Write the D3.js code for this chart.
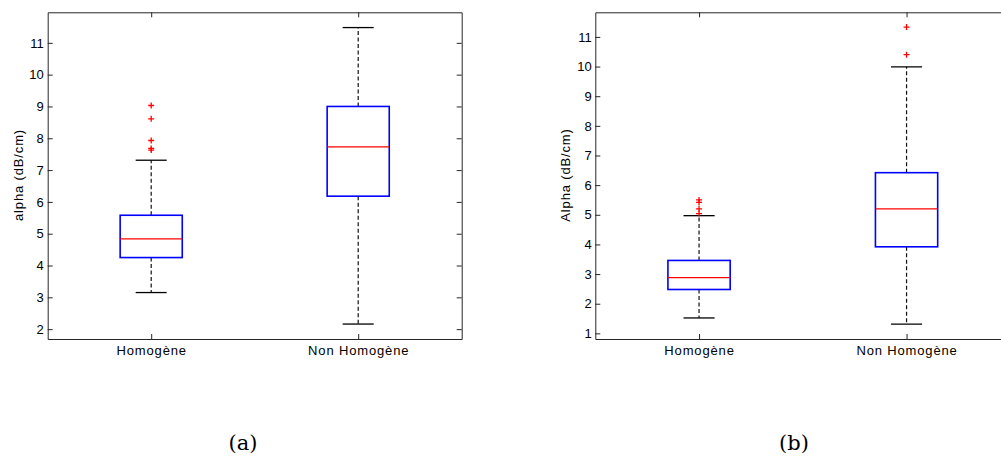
<!DOCTYPE html>
<html>
<head>
<meta charset="utf-8">
<script src="https://cdn.jsdelivr.net/npm/d3@7"></script>
<style>
  body { margin: 0; background: #fff; }
  svg { display: block; }
  .tick text { font-family: "Liberation Sans", Arial, sans-serif; font-size: 13px; fill: #000; }
  .xaxis .tick text, .ylabel { font-family: "Liberation Sans", Arial, sans-serif; font-size: 13px; letter-spacing: 0.85px; fill: #000; }
  .caption { font-family: "DejaVu Serif", serif; font-size: 21px; fill: #000; }
</style>
</head>
<body>
<svg id="chart" width="1001" height="459"></svg>
<script>
// categories and tick labels
const categories = ["Homogène", "Non Homogène"];
const yTicksA = [2, 3, 4, 5, 6, 7, 8, 9, 10, 11];
const yTicksB = [1, 2, 3, 4, 5, 6, 7, 8, 9, 10, 11];

// panel (a) box statistics, one value per category
const q1A = [4.25, 6.18];
const medianA = [4.84, 7.73];
const q3A = [5.58, 9.0];
const lowA = [3.15, 2.16];
const highA = [7.31, 11.48];
const outliersA = [[9.03, 8.61, 7.93, 7.68, 7.63], []];

// panel (b) box statistics
const q1B = [2.48, 3.92];
const medianB = [2.88, 5.2];
const q3B = [3.46, 6.42];
const lowB = [1.52, 1.31];
const highB = [4.97, 9.99];
const outliersB = [[5.5, 5.42, 5.2, 5.04], [11.33, 10.4]];

const svg = d3.select("#chart");

function drawPanel(opts) {
  const g = svg.append("g")
    .attr("transform", `translate(${opts.left},${opts.top})`);

  const width = opts.width;
  const height = opts.height;

  const x = d3.scaleLinear().domain([0.5, 2.5]).range([0, width]);
  const y = d3.scaleLinear().domain(opts.yDomain).range([height, 0]);

  const boxW = 0.15; // half width in x units
  const capW = 0.075;

  // y axis left, ticks pointing inward
  g.append("g")
    .call(d3.axisLeft(y).tickValues(opts.yTicks).tickSizeInner(-5).tickSizeOuter(0).tickPadding(opts.pad))
    .call((a) => a.select(".domain").attr("stroke", "#262626"))
    .call((a) => a.selectAll(".tick line").attr("stroke", "#262626"));

  // right side ticks
  g.append("g")
    .attr("transform", `translate(${width},0)`)
    .call(d3.axisRight(y).tickValues(opts.yTicks).tickSizeInner(-5).tickSizeOuter(0).tickFormat(""))
    .call((a) => a.select(".domain").attr("stroke", "#262626"))
    .call((a) => a.selectAll(".tick line").attr("stroke", "#262626"));

  // bottom axis with categories
  g.append("g")
    .attr("class", "xaxis")
    .attr("transform", `translate(0,${height})`)
    .call(d3.axisBottom(x).tickValues([1, 2]).tickFormat((d) => categories[d - 1])
      .tickSizeInner(-5).tickSizeOuter(0).tickPadding(7))
    .call((a) => a.select(".domain").attr("stroke", "#262626"))
    .call((a) => a.selectAll(".tick line").attr("stroke", "#262626"));

  // top axis
  g.append("g")
    .call(d3.axisTop(x).tickValues([1, 2]).tickSizeInner(-5).tickSizeOuter(0).tickFormat(""))
    .call((a) => a.select(".domain").attr("stroke", "#262626"))
    .call((a) => a.selectAll(".tick line").attr("stroke", "#262626"));

  g.selectAll(".tick text").attr("font-family", null).attr("font-size", null);

  // y label
  svg.append("text")
    .attr("class", "ylabel")
    .attr("text-anchor", "middle")
    .attr("transform", `translate(${opts.labelX},${opts.labelY}) rotate(-90)`)
    .attr("dy", "0.35em")
    .text(opts.yLabel);

  const idx = [0, 1];

  // whiskers (dashed)
  g.selectAll(".whisker-up")
    .data(idx)
    .enter()
    .append("line")
    .attr("x1", (i) => x(i + 1))
    .attr("x2", (i) => x(i + 1))
    .attr("y1", (i) => y(opts.q3[i]))
    .attr("y2", (i) => y(opts.high[i]))
    .attr("stroke", "#111")
    .attr("stroke-width", 1.2)
    .attr("stroke-dasharray", "4,2.5");

  g.selectAll(".whisker-down")
    .data(idx)
    .enter()
    .append("line")
    .attr("x1", (i) => x(i + 1))
    .attr("x2", (i) => x(i + 1))
    .attr("y1", (i) => y(opts.q1[i]))
    .attr("y2", (i) => y(opts.low[i]))
    .attr("stroke", "#111")
    .attr("stroke-width", 1.2)
    .attr("stroke-dasharray", "4,2.5");

  // caps
  [opts.high, opts.low].forEach((vals) => {
    g.selectAll(null)
      .data(idx)
      .enter()
      .append("line")
      .attr("x1", (i) => x(i + 1 - capW))
      .attr("x2", (i) => x(i + 1 + capW))
      .attr("y1", (i) => y(vals[i]))
      .attr("y2", (i) => y(vals[i]))
      .attr("stroke", "#000")
      .attr("stroke-width", 1.3);
  });

  // boxes
  g.selectAll(".box")
    .data(idx)
    .enter()
    .append("rect")
    .attr("x", (i) => x(i + 1 - boxW))
    .attr("width", (i) => x(i + 1 + boxW) - x(i + 1 - boxW))
    .attr("y", (i) => y(opts.q3[i]))
    .attr("height", (i) => y(opts.q1[i]) - y(opts.q3[i]))
    .attr("fill", "none")
    .attr("stroke", "#0000ff")
    .attr("stroke-width", 1.6);

  // medians
  g.selectAll(".median")
    .data(idx)
    .enter()
    .append("line")
    .attr("x1", (i) => x(i + 1 - boxW))
    .attr("x2", (i) => x(i + 1 + boxW))
    .attr("y1", (i) => y(opts.median[i]))
    .attr("y2", (i) => y(opts.median[i]))
    .attr("stroke", "#ff0000")
    .attr("stroke-width", 1.3);

  // outliers as '+'
  const pts = [];
  opts.outliers.forEach((arr, i) => arr.forEach((v) => pts.push({ i: i, v: v })));
  g.selectAll(".outlier")
    .data(pts)
    .enter()
    .append("path")
    .attr("d", (d) => {
      const cx = x(d.i + 1), cy = y(d.v), r = 3;
      return `M${cx - r},${cy}H${cx + r}M${cx},${cy - r}V${cy + r}`;
    })
    .attr("stroke", "#ff0000")
    .attr("stroke-width", 1.3)
    .attr("fill", "none");

  // caption
  svg.append("text")
    .attr("class", "caption")
    .attr("text-anchor", "middle")
    .attr("x", opts.captionX)
    .attr("y", 450)
    .text(opts.caption);
}

drawPanel({
  left: 47.7, top: 12.3, width: 414, height: 326.7,
  yDomain: [1.69, 11.96], yTicks: yTicksA, pad: 4,
  q1: q1A, median: medianA, q3: q3A, low: lowA, high: highA, outliers: outliersA,
  yLabel: "alpha (dB/cm)", labelX: 18, labelY: 175, caption: "(a)", captionX: 243
});

drawPanel({
  left: 595.3, top: 12.3, width: 415, height: 326.7,
  yDomain: [0.81, 11.83], yTicks: yTicksB, pad: 3.5,
  q1: q1B, median: medianB, q3: q3B, low: lowB, high: highB, outliers: outliersB,
  yLabel: "Alpha (dB/cm)", labelX: 565, labelY: 175, caption: "(b)", captionX: 794
});
</script>
</body>
</html>
